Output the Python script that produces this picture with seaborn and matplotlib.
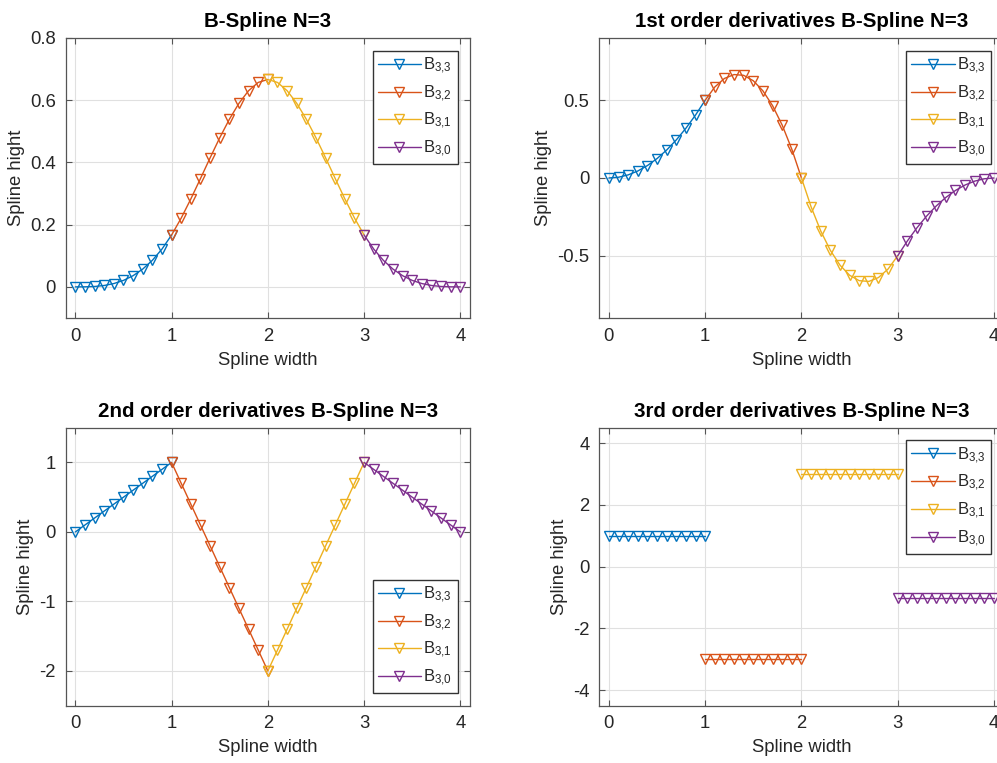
import matplotlib
matplotlib.use("Agg")
import matplotlib.pyplot as plt
import seaborn as sns
import pandas as pd

# ---------------- data ----------------
x_seg0 = [0.0, 0.1, 0.2, 0.3, 0.4, 0.5, 0.6, 0.7, 0.8, 0.9, 1.0]
x_seg1 = [1.0, 1.1, 1.2, 1.3, 1.4, 1.5, 1.6, 1.7, 1.8, 1.9, 2.0]
x_seg2 = [2.0, 2.1, 2.2, 2.3, 2.4, 2.5, 2.6, 2.7, 2.8, 2.9, 3.0]
x_seg3 = [3.0, 3.1, 3.2, 3.3, 3.4, 3.5, 3.6, 3.7, 3.8, 3.9, 4.0]

labels = [r"$\mathregular{B_{3{,}3}}$", r"$\mathregular{B_{3{,}2}}$",
          r"$\mathregular{B_{3{,}1}}$", r"$\mathregular{B_{3{,}0}}$"]
colors = ["#0072BD", "#D95319", "#EDB120", "#7E2F8E"]

# B-spline values
spl_b33 = [0, 0.0002, 0.0013, 0.0045, 0.0107, 0.0208, 0.036, 0.0572, 0.0853, 0.1215, 0.1667]
spl_b32 = [0.1667, 0.2212, 0.2827, 0.3482, 0.4147, 0.4792, 0.5387, 0.5902, 0.6307, 0.6572, 0.6667]
spl_b31 = [0.6667, 0.6572, 0.6307, 0.5902, 0.5387, 0.4792, 0.4147, 0.3482, 0.2827, 0.2212, 0.1667]
spl_b30 = [0.1667, 0.1215, 0.0853, 0.0572, 0.036, 0.0208, 0.0107, 0.0045, 0.0013, 0.0002, 0]

# 1st derivatives
d1_b33 = [0, 0.005, 0.02, 0.045, 0.08, 0.125, 0.18, 0.245, 0.32, 0.405, 0.5]
d1_b32 = [0.5, 0.585, 0.64, 0.665, 0.66, 0.625, 0.56, 0.465, 0.34, 0.185, 0]
d1_b31 = [0, -0.185, -0.34, -0.465, -0.56, -0.625, -0.66, -0.665, -0.64, -0.585, -0.5]
d1_b30 = [-0.5, -0.405, -0.32, -0.245, -0.18, -0.125, -0.08, -0.045, -0.02, -0.005, 0]

# 2nd derivatives
d2_b33 = [0, 0.1, 0.2, 0.3, 0.4, 0.5, 0.6, 0.7, 0.8, 0.9, 1.0]
d2_b32 = [1.0, 0.7, 0.4, 0.1, -0.2, -0.5, -0.8, -1.1, -1.4, -1.7, -2.0]
d2_b31 = [-2.0, -1.7, -1.4, -1.1, -0.8, -0.5, -0.2, 0.1, 0.4, 0.7, 1.0]
d2_b30 = [1.0, 0.9, 0.8, 0.7, 0.6, 0.5, 0.4, 0.3, 0.2, 0.1, 0]

# 3rd derivatives
d3_b33 = [1, 1, 1, 1, 1, 1, 1, 1, 1, 1, 1]
d3_b32 = [-3, -3, -3, -3, -3, -3, -3, -3, -3, -3, -3]
d3_b31 = [3, 3, 3, 3, 3, 3, 3, 3, 3, 3, 3]
d3_b30 = [-1, -1, -1, -1, -1, -1, -1, -1, -1, -1, -1]

titles = ["B-Spline N=3", "1st order derivatives B-Spline N=3",
          "2nd order derivatives B-Spline N=3", "3rd order derivatives B-Spline N=3"]
xticks = [0, 1, 2, 3, 4]
yticks_list = [[0, 0.2, 0.4, 0.6, 0.8], [-0.5, 0, 0.5], [-2, -1, 0, 1], [-4, -2, 0, 2, 4]]
ytick_labels_list = [["0", "0.2", "0.4", "0.6", "0.8"], ["-0.5", "0", "0.5"],
                     ["-2", "-1", "0", "1"], ["-4", "-2", "0", "2", "4"]]
ylims = [(-0.1, 0.8), (-0.9, 0.9), (-2.5, 1.5), (-4.5, 4.5)]
legend_locs = ["upper right", "upper right", "lower right", "upper right"]

panels = [
    [spl_b33, spl_b32, spl_b31, spl_b30],
    [d1_b33, d1_b32, d1_b31, d1_b30],
    [d2_b33, d2_b32, d2_b31, d2_b30],
    [d3_b33, d3_b32, d3_b31, d3_b30],
]
xsegs = [x_seg0, x_seg1, x_seg2, x_seg3]

# ---------------- style ----------------
sns.set_style("white")
plt.rcParams["font.family"] = ["Liberation Sans", "DejaVu Sans"]
plt.rcParams["axes.unicode_minus"] = False
plt.rcParams["mathtext.fontset"] = "custom"
plt.rcParams["mathtext.rm"] = "Liberation Sans"

fig = plt.figure(figsize=(9.97, 7.63), dpi=100)
W, H = 997.0, 763.0
positions = [
    (65.7 / W, 1 - 318 / H, 404.3 / W, 280 / H),
    (599.3 / W, 1 - 318 / H, 404.3 / W, 280 / H),
    (65.7 / W, 1 - 705.7 / H, 404.3 / W, 278 / H),
    (599.3 / W, 1 - 705.7 / H, 404.3 / W, 278 / H),
]

text_col = "#262626"
for i in range(4):
    ax = fig.add_axes(positions[i])
    for k in range(4):
        df = pd.DataFrame({"x": xsegs[k], "y": panels[i][k]})
        sns.lineplot(data=df, x="x", y="y", ax=ax, color=colors[k], marker="v",
                     markersize=7.5, markerfacecolor="none", markeredgecolor=colors[k],
                     markeredgewidth=1.0, linewidth=1.0, label=labels[k], sort=False)
    ax.set_xlim(-0.1, 4.1)
    ax.set_ylim(*ylims[i])
    ax.set_xticks(xticks)
    ax.set_xticklabels([str(v) for v in xticks])
    ax.set_yticks(yticks_list[i])
    ax.set_yticklabels(ytick_labels_list[i])
    ax.grid(True, color="#e0e0e0", linewidth=0.8)
    ax.set_axisbelow(True)
    for s in ax.spines.values():
        s.set_color("#555555")
        s.set_linewidth(0.9)
    ax.tick_params(direction="in", length=4, width=0.8, colors="#555555",
                   labelcolor=text_col, labelsize=13.3, top=True, right=True,
                   bottom=True, left=True, pad=7)
    ax.set_xlabel("Spline width", fontsize=13.3, color=text_col, labelpad=5)
    ax.set_ylabel("Spline hight", fontsize=13.3, color=text_col, labelpad=4)
    ax.set_title(titles[i], fontsize=14.8, fontweight="bold", color="black", pad=8)
    leg = ax.legend(loc=legend_locs[i], fontsize=12, frameon=True, fancybox=False,
                    framealpha=1, edgecolor="#333333", handlelength=2.6,
                    handletextpad=0.15, labelspacing=0.45, borderpad=0.3,
                    borderaxespad=0.75)
    leg.get_frame().set_linewidth(1.0)

fig.savefig("out.png", dpi=100)
